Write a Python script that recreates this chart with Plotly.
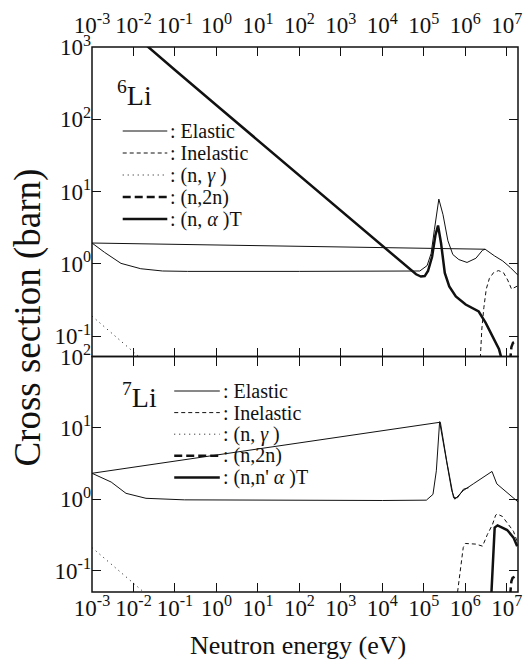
import plotly.graph_objects as go

# ---------------- data ----------------
# 6Li
li6_el_E = [1e-3, 2e-3, 5e-3, 1.5e-2, 5e-2, 0.2, 1e2, 1e4, 4e4, 8e4, 1.2e5, 1.5e5, 1.8e5, 2.3e5,
            2.9e5, 3.8e5, 5e5, 7e5, 1.1e6, 1.8e6, 2.6e6, 3.0e6, 5e6, 8e6, 1.2e7, 1.86e7]
li6_el_S = [1.95, 1.45, 1.02, 0.86, 0.80, 0.79, 0.79, 0.79, 0.79, 0.80, 0.95, 1.4, 3.0, 7.9,
            4.8, 2.1, 1.35, 1.15, 1.05, 1.2, 1.55, 1.6, 1.3, 1.1, 0.9, 0.7]
li6_el2_E = [1e-3, 3.0e6]
li6_el2_S = [1.95, 1.6]
li6_inel_E = [2.3e6, 2.5e6, 2.8e6, 3.2e6, 3.8e6, 4.8e6, 6.3e6, 8.3e6, 1.05e7, 1.3e7, 1.86e7]
li6_inel_S = [0.05, 0.126, 0.25, 0.45, 0.63, 0.76, 0.81, 0.76, 0.6, 0.45, 0.5]
li6_ng_E = [1e-3, 3e-3, 1e-2, 2e-2]
li6_ng_S = [0.19, 0.11, 0.06, 0.043]
li6_n2n_E = [1.2e7, 1.29e7, 1.41e7, 1.86e7]
li6_n2n_S = [0.045, 0.071, 0.081, 0.085]
li6_na_E = [1e-3, 1e-2, 0.1, 1, 10, 100, 1e3, 1e4, 3e4, 5e4, 6.5e4, 8.5e4, 1.05e5, 1.26e5, 1.58e5,
            1.9e5, 2.2e5, 2.6e5, 3.2e5, 4.1e5, 5.9e5, 1.02e6, 2.1e6, 3.1e6, 4.5e6, 6.5e6, 7.4e6]
li6_na_S = [4700, 1486, 483, 157, 51, 16.6, 5.4, 1.75, 1.03, 0.80, 0.72, 0.67, 0.68, 0.8, 1.26,
            2.5, 3.4, 1.94, 0.75, 0.49, 0.355, 0.275, 0.22, 0.153, 0.1, 0.066, 0.05]

# 7Li
li7_el_E = [1e-3, 2.9e-3, 6.6e-3, 2e-2, 0.17, 1e2, 1e4, 1.15e5, 1.66e5, 2e5, 2.2e5, 2.4e5, 3.5e5,
            4.7e5, 5.6e5, 8.9e5, 1.55e6, 4.4e6, 5.75e6, 1e7, 1.74e7, 1.86e7]
li7_el_S = [2.31, 1.74, 1.21, 1.03, 0.98, 0.96, 0.96, 0.97, 1.17, 2.5, 6.0, 12.2, 3.5,
            1.32, 1.0, 1.32, 1.64, 2.45, 1.64, 1.26, 0.95, 0.92]
li7_el2_E = [1e-3, 2.5e5, 3.6e5, 5.2e5, 6.5e5, 9e5, 1.2e6]
li7_el2_S = [2.31, 12.0, 3.3, 1.05, 1.05, 1.38, 1.45]
li7_inel_E = [6.5e5, 7.8e5, 8.9e5, 1e6, 1.8e6, 2.6e6, 3.4e6, 4.5e6, 5.4e6, 5.9e6, 7.8e6, 1.1e7,
              1.45e7, 1.8e7]
li7_inel_S = [0.05, 0.123, 0.21, 0.24, 0.235, 0.22, 0.32, 0.44, 0.6, 0.62, 0.575, 0.44, 0.355, 0.25]
li7_ng_E = [1e-3, 3e-3, 1e-2, 2e-2]
li7_ng_S = [0.21, 0.12, 0.066, 0.047]
li7_n2n_E = [1.2e7, 1.29e7, 1.38e7, 1.58e7]
li7_n2n_S = [0.045, 0.071, 0.079, 0.083]
li7_nna_E = [4.27e6, 5.1e6, 6e6, 1.02e7, 1.45e7, 1.78e7]
li7_nna_S = [0.05, 0.4, 0.43, 0.37, 0.29, 0.22]

x_tickvals = [1e-3, 1e-2, 1e-1, 1, 10, 100, 1e3, 1e4, 1e5, 1e6, 1e7]
x_ticktext = ["10<sup>-3</sup>", "10<sup>-2</sup>", "10<sup>-1</sup>", "10<sup>0</sup>", "10<sup>1</sup>",
              "10<sup>2</sup>", "10<sup>3</sup>", "10<sup>4</sup>", "10<sup>5</sup>", "10<sup>6</sup>",
              "10<sup>7</sup>"]
y1_tickvals = [0.1, 1, 10, 100, 1000]
y1_ticktext = ["10<sup>-1</sup>", "10<sup>0</sup>", "10<sup>1</sup>", "10<sup>2</sup>", "10<sup>3</sup>"]
y2_tickvals = [0.1, 1, 10, 100]
y2_ticktext = ["10<sup>-1</sup>", "10<sup>0</sup>", "10<sup>1</sup>", "10<sup>2</sup>"]

names_li6 = [": Elastic", ": Inelastic", ": (n, <i>γ</i> )", ": (n,2n)", ": (n, <i>α</i> )T"]
names_li7 = [": Elastic", ": Inelastic", ": (n, <i>γ</i> )", ": (n,2n)", ": (n,n' <i>α</i> )T"]

# ---------------- styles ----------------
FONT = "Liberation Serif"
styles = [
    dict(width=1, dash="solid"),     # elastic
    dict(width=1, dash="4px,3px"),   # inelastic
    dict(width=1, dash="1px,4px"),   # (n,g)
    dict(width=2.5, dash="8px,4px"), # (n,2n)
    dict(width=2.5, dash="solid"),   # (n,a)T
]
COL = "#111"
LW = 1.5

W, H = 531, 662
ML, MR, MT, MB = 92, 9, 47, 70
PW, PH = W - ML - MR, H - MT - MB
split = 235.5 / PH

def px(xp):
    return (xp - ML) / PW

def py(yp):
    return (H - MB - yp) / PH

fig = go.Figure()

def add(E, S, st, xa, ya):
    fig.add_trace(go.Scatter(x=E, y=S, mode="lines", xaxis=xa, yaxis=ya, showlegend=False,
                             hoverinfo="skip",
                             line=dict(color=COL, width=st["width"], dash=st["dash"])))

add(li6_el_E, li6_el_S, styles[0], "x", "y")
add(li6_el2_E, li6_el2_S, styles[0], "x", "y")
add(li6_inel_E, li6_inel_S, styles[1], "x", "y")
add(li6_ng_E, li6_ng_S, styles[2], "x", "y")
add(li6_n2n_E, li6_n2n_S, styles[3], "x", "y")
add(li6_na_E, li6_na_S, styles[4], "x", "y")

add(li7_el_E, li7_el_S, styles[0], "x2", "y2")
add(li7_el2_E, li7_el2_S, styles[0], "x2", "y2")
add(li7_inel_E, li7_inel_S, styles[1], "x2", "y2")
add(li7_ng_E, li7_ng_S, styles[2], "x2", "y2")
add(li7_n2n_E, li7_n2n_S, styles[3], "x2", "y2")
add(li7_nna_E, li7_nna_S, styles[4], "x2", "y2")

tickfont = dict(family=FONT, size=23, color="#111")
xrange_ = [-3, 7.27]
common_x = dict(type="log", range=xrange_, tickvals=x_tickvals, ticktext=x_ticktext,
                ticks="inside", ticklen=9, tickwidth=1.2, tickcolor="#111",
                showline=False, showgrid=False, zeroline=False,
                mirror="ticks", tickfont=tickfont, showticklabels=True)
common_y = dict(type="log", ticks="inside", ticklen=9, tickwidth=1.2, tickcolor="#111",
                showline=False, showgrid=False, zeroline=False,
                mirror="ticks", tickfont=tickfont)

fig.update_layout(
    width=W, height=H, margin=dict(l=ML, r=MR, t=MT, b=MB),
    paper_bgcolor="white", plot_bgcolor="white", showlegend=False,
    xaxis=dict(common_x, anchor="y", domain=[0, 1], side="top", ticklabelstandoff=8),
    xaxis2=dict(common_x, anchor="y2", domain=[0, 1], side="bottom"),
    yaxis=dict(common_y, anchor="x", domain=[split, 1], range=[-1.28, 3.002],
               tickvals=y1_tickvals, ticktext=y1_ticktext),
    yaxis2=dict(common_y, anchor="x2", domain=[0, split], range=[-1.3, 2.0],
                tickvals=y2_tickvals, ticktext=y2_ticktext),
)

ann = []
ann.append(dict(text="Cross section (barn)", x=px(27), y=py(318), xref="paper", yref="paper",
                xanchor="center", yanchor="middle",
                textangle=-90, showarrow=False, font=dict(family=FONT, size=37, color="#111")))
ann.append(dict(text="Neutron energy (eV)", x=px(300), y=py(645), xref="paper", yref="paper",
                xanchor="center", yanchor="middle",
                showarrow=False, font=dict(family=FONT, size=26, color="#111")))
ann.append(dict(text="<sup>6</sup>Li", x=px(115), y=py(94), xref="paper", yref="paper",
                xanchor="left", yanchor="middle", showarrow=False,
                font=dict(family=FONT, size=28, color="#111")))
ann.append(dict(text="<sup>7</sup>Li", x=px(120), y=py(395), xref="paper", yref="paper",
                xanchor="left", yanchor="middle", showarrow=False,
                font=dict(family=FONT, size=28, color="#111")))

# panel frames
shapes = [
    dict(type="rect", xref="x domain", yref="y domain", x0=0, x1=1, y0=0, y1=1,
         line=dict(color=COL, width=LW), layer="above"),
    dict(type="rect", xref="x2 domain", yref="y2 domain", x0=0, x1=1, y0=0, y1=1,
         line=dict(color=COL, width=LW), layer="above"),
]

def legend(names, x0, x1, y0, dy):
    for i, (nm, st) in enumerate(zip(names, styles)):
        yy = y0 + i * dy
        shapes.append(dict(type="line", xref="paper", yref="paper", x0=px(x0), x1=px(x1),
                           y0=py(yy), y1=py(yy),
                           line=dict(color=COL, width=st["width"], dash=st["dash"])))
        ann.append(dict(text=nm, x=px(x1 + 1), y=py(yy), xref="paper", yref="paper",
                        xanchor="left", yanchor="middle", showarrow=False,
                        font=dict(family=FONT, size=20, color="#111")))

legend(names_li6, 123, 168, 131, 22)
legend(names_li7, 175, 221, 391, 21.6)

fig.update_layout(annotations=ann, shapes=shapes)
fig.write_html("out.html", config={"displayModeBar": False},
               post_script="document.body.style.margin='0';document.body.style.overflow='hidden';")
